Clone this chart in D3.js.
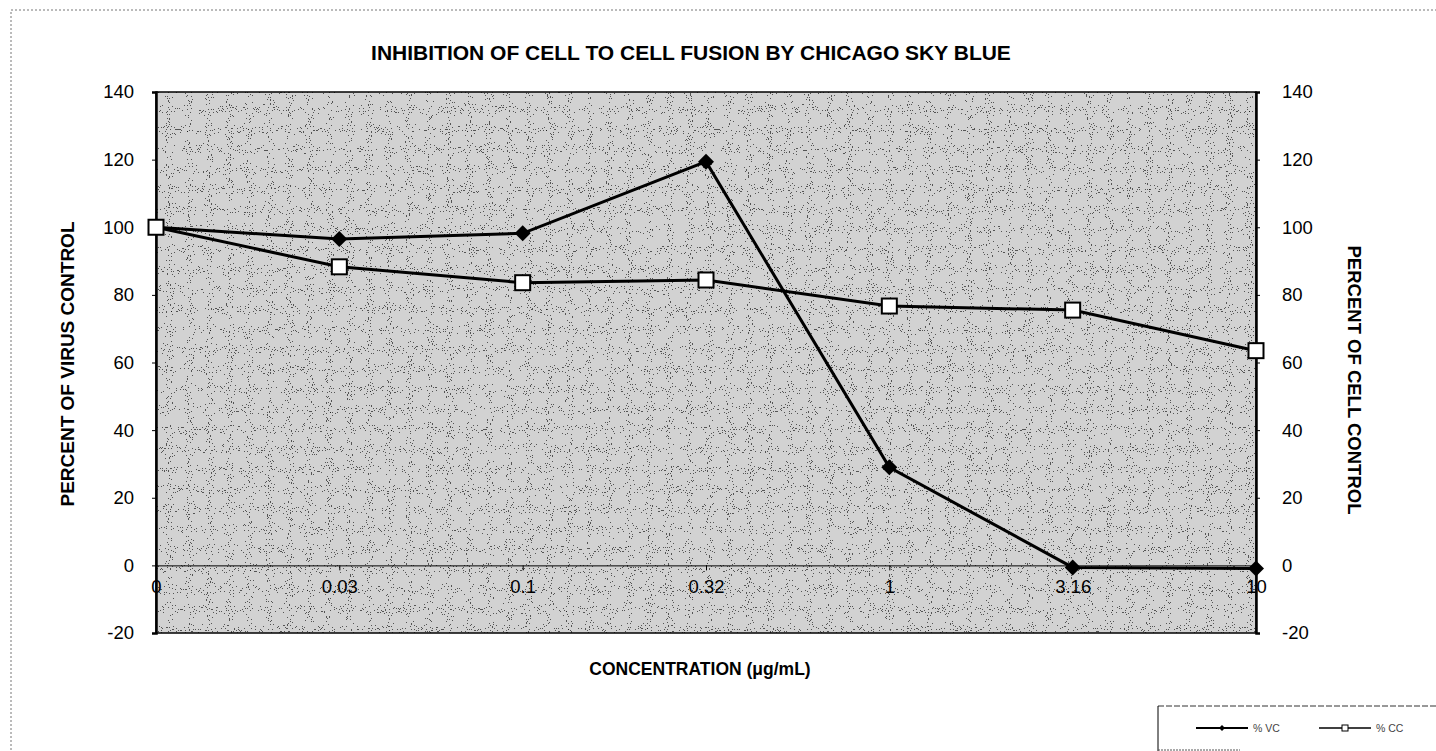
<!DOCTYPE html>
<html><head><meta charset="utf-8">
<script src="https://cdn.jsdelivr.net/npm/d3@7"></script>
<style>
html,body{margin:0;padding:0;background:#fff;}
svg{display:block;font-family:"Liberation Sans",Arial,sans-serif;}
</style></head>
<body>
<svg id="chart" width="1436" height="751"></svg>
<script>
const categories = ["0","0.03","0.1","0.32","1","3.16","10"];
const vcValues = [100, 96.5, 98.2, 119.4, 29.0, -0.6, -0.9];
const ccValues = [100, 88.3, 83.6, 84.4, 76.7, 75.5, 63.5];
const yTicks = [-20, 0, 20, 40, 60, 80, 100, 120, 140];
const titleText = "INHIBITION OF CELL TO CELL FUSION BY CHICAGO SKY BLUE";
const xTitle = "CONCENTRATION (\u03BCg/mL)";
const yLeftTitle = "PERCENT OF VIRUS CONTROL";
const yRightTitle = "PERCENT OF CELL CONTROL";
const legendNames = ["% VC", "% CC"];

const svg = d3.select("#chart");
const m = {left:156, right:1256, top:92, bottom:633};
const FONT = "Liberation Sans, Arial, sans-serif";
const fmt = d => String(d);

// stipple texture
const defs = svg.append("defs");
const f = defs.append("filter").attr("id","stip").attr("x",0).attr("y",0).attr("width","100%").attr("height","100%");
f.append("feTurbulence").attr("type","fractalNoise").attr("baseFrequency",0.95).attr("numOctaves",1).attr("seed",3).attr("result","n");
f.append("feColorMatrix").attr("in","n").attr("type","matrix")
 .attr("values","0 0 0 0 0  0 0 0 0 0  0 0 0 0 0  1.4 0 0 0 -0.35").attr("result","a");
f.append("feComponentTransfer").attr("in","a").append("feFuncA").attr("type","discrete").attr("tableValues","0 0 0 0.6 0.85");

const x = d3.scalePoint().domain(categories).range([m.left, m.right]).padding(0);
const y = d3.scaleLinear().domain([-20,140]).range([m.bottom, m.top]);

// outer dotted border
svg.append("rect").attr("x",11).attr("y",10).attr("width",1440).attr("height",760)
  .attr("fill","none").attr("stroke","#777").attr("stroke-width",1).attr("stroke-dasharray","2,2");

// plot background
svg.append("rect").attr("x",m.left).attr("y",m.top).attr("width",m.right-m.left).attr("height",m.bottom-m.top)
  .attr("fill","#d2d2d2");
svg.append("rect").attr("x",m.left).attr("y",m.top).attr("width",m.right-m.left).attr("height",m.bottom-m.top)
  .attr("fill","#fff").attr("filter","url(#stip)");
svg.append("rect").attr("x",m.left).attr("y",m.top).attr("width",m.right-m.left).attr("height",m.bottom-m.top)
  .attr("fill","none").attr("stroke","#000").attr("stroke-width",1.5);

// left axis
const yl = svg.append("g").attr("transform",`translate(${m.left},0)`)
  .call(d3.axisLeft(y).tickValues(yTicks).tickFormat(fmt).tickSize(4).tickPadding(18));
yl.select(".domain").attr("stroke","#000").attr("stroke-width",2.5);
yl.selectAll("text").attr("font-size",18.5).attr("fill","#000").attr("font-family",FONT);

// right axis
const yr = svg.append("g").attr("transform",`translate(${m.right},0)`)
  .call(d3.axisRight(y).tickValues(yTicks).tickFormat(fmt).tickSize(4).tickPadding(22));
yr.select(".domain").attr("stroke","#000").attr("stroke-width",2.5);
yr.selectAll("text").attr("font-size",18.5).attr("fill","#000").attr("font-family",FONT);

// x axis at zero
const xa = svg.append("g").attr("transform",`translate(0,${y(0)})`)
  .call(d3.axisBottom(x).tickSize(5).tickPadding(9));
xa.select(".domain").attr("stroke","#000").attr("stroke-width",1);
xa.selectAll("text").attr("font-size",18.5).attr("fill","#000").attr("font-family",FONT);

// lines
const line = d3.line().x((d,i)=>x(categories[i])).y(d=>y(d));
svg.append("path").datum(ccValues).attr("d",line).attr("fill","none").attr("stroke","#000").attr("stroke-width",3);
svg.append("path").datum(vcValues).attr("d",line).attr("fill","none").attr("stroke","#000").attr("stroke-width",3);

// markers
svg.selectAll(".vc").data(vcValues).enter().append("path")
  .attr("transform",(d,i)=>`translate(${x(categories[i])},${y(d)})`)
  .attr("d","M0,-8L8,0L0,8L-8,0Z").attr("fill","#000");
svg.selectAll(".cc").data(ccValues).enter().append("rect")
  .attr("x",(d,i)=>x(categories[i])-7.5).attr("y",d=>y(d)-7.5)
  .attr("width",15).attr("height",15).attr("fill","#fff").attr("stroke","#000").attr("stroke-width",2);

// titles
svg.append("text").attr("x",691).attr("y",60).attr("text-anchor","middle")
  .attr("font-size",21).attr("font-weight","bold").text(titleText);
svg.append("text").attr("x",700).attr("y",675).attr("text-anchor","middle")
  .attr("font-size",17.5).attr("font-weight","bold").text(xTitle);
svg.append("text").attr("transform","translate(74,364) rotate(-90)").attr("text-anchor","middle")
  .attr("font-size",19).attr("font-weight","bold").text(yLeftTitle);
svg.append("text").attr("transform","translate(1348,380) rotate(90)").attr("text-anchor","middle")
  .attr("font-size",18.5).attr("font-weight","bold").text(yRightTitle);

// legend
const lg = svg.append("g");
lg.append("line").attr("x1",1158).attr("x2",1436).attr("y1",706).attr("y2",706).attr("stroke","#333").attr("stroke-width",1).attr("stroke-dasharray","6,2");
lg.append("line").attr("x1",1158).attr("x2",1158).attr("y1",706).attr("y2",751).attr("stroke","#000").attr("stroke-width",1);
lg.append("line").attr("x1",1158).attr("x2",1240).attr("y1",750).attr("y2",750).attr("stroke","#555").attr("stroke-width",1).attr("stroke-dasharray","2,1");
[0,1].forEach(k=>{
  const lx = 1196 + k*123, ly = 728;
  lg.append("line").attr("x1",lx).attr("x2",lx+52).attr("y1",ly).attr("y2",ly).attr("stroke","#000").attr("stroke-width",k===0?2:1.5);
  if(k===0) lg.append("path").attr("transform",`translate(${lx+26},${ly})`).attr("d","M0,-3L3,0L0,3L-3,0Z").attr("fill","#000");
  else lg.append("rect").attr("x",lx+23).attr("y",ly-3).attr("width",6).attr("height",6).attr("fill","#fff").attr("stroke","#000").attr("stroke-width",1);
  lg.append("text").attr("x",lx+57).attr("y",ly+4).attr("font-size",10.5).attr("fill","#444").text(legendNames[k]);
});
</script>
</body></html>
